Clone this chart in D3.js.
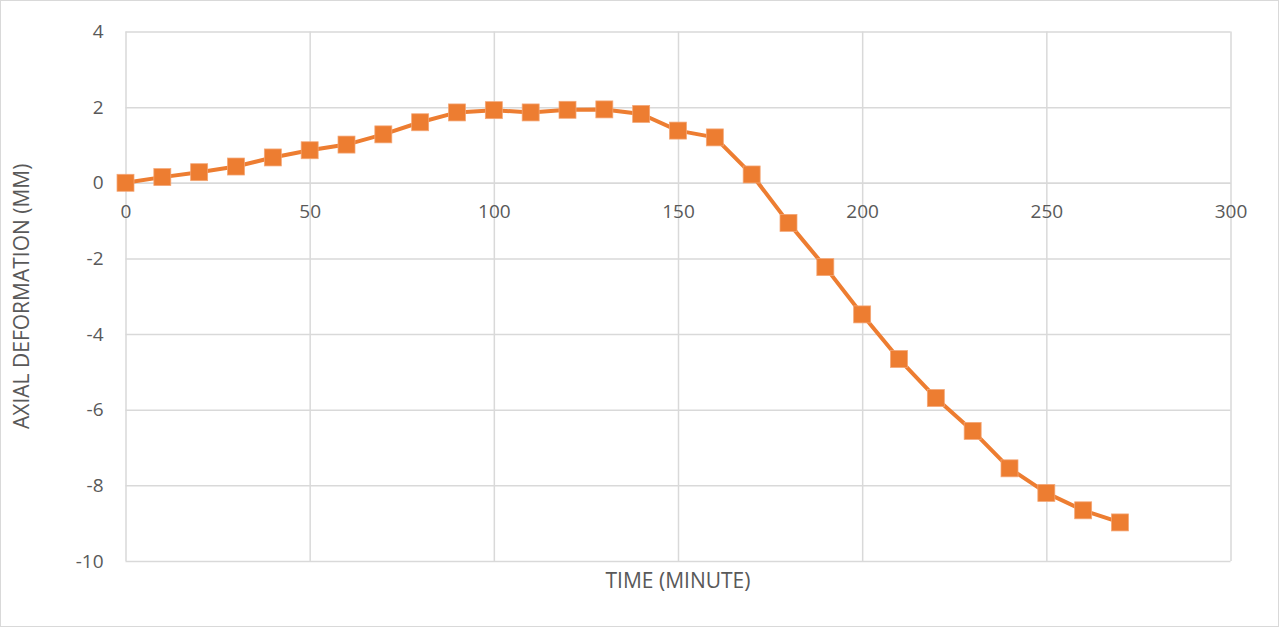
<!DOCTYPE html>
<html>
<head>
<meta charset="utf-8">
<script src="https://cdn.jsdelivr.net/npm/d3@7"></script>
<style>
  html, body { margin: 0; padding: 0; background: #fff; }
  svg { display: block; }
  text { font-family: "Open Sans", "Lato", sans-serif; fill: #595959; }
</style>
</head>
<body>
<svg id="chart" width="1279" height="627"></svg>
<script>
// Axial deformation of the specimen over time
const timeMinutes = [0, 10, 20, 30, 40, 50, 60, 70, 80, 90, 100, 110, 120, 130, 140,
                     150, 160, 170, 180, 190, 200, 210, 220, 230, 240, 250, 260, 270];
const deformationMM = [0, 0.15, 0.28, 0.43, 0.67, 0.86, 1.01, 1.28, 1.6, 1.86, 1.92, 1.86, 1.93, 1.94, 1.82,
                       1.38, 1.2, 0.22, -1.06, -2.23, -3.48, -4.66, -5.69, -6.56, -7.55, -8.2, -8.66, -8.98];
const xTicks = [0, 50, 100, 150, 200, 250, 300];
const yTicks = [-10, -8, -6, -4, -2, 0, 2, 4];
const xTitle = "TIME (MINUTE)";
const yTitle = "AXIAL DEFORMATION (MM)";

const W = 1279, H = 627;
const plot = { left: 125.5, right: 1230.5, top: 31.5, bottom: 561 };

const svg = d3.select("#chart");

// outer chart border
svg.append("rect")
  .attr("x", 0.5).attr("y", 0.5)
  .attr("width", W - 1).attr("height", H - 1)
  .attr("fill", "#fff").attr("stroke", "#d9d9d9").attr("stroke-width", 1);

const x = d3.scaleLinear().domain([0, 300]).range([plot.left, plot.right]);
const y = d3.scaleLinear().domain([-10, 4]).range([plot.bottom, plot.top]);

const gridColor = "#d9d9d9";
const tickFmt = d => String(d); // plain hyphen-minus for negatives

// horizontal gridlines + value labels
const yAxis = d3.axisLeft(y).tickValues(yTicks).tickFormat(tickFmt)
  .tickSize(-(plot.right - plot.left)).tickPadding(22);
const gy = svg.append("g").attr("transform", `translate(${plot.left},0)`).call(yAxis);
gy.select(".domain").remove();
gy.selectAll(".tick line").attr("stroke", gridColor).attr("stroke-width", 1.5);
gy.selectAll(".tick text").attr("font-size", 19).attr("fill", "#595959")
  .style("font-family", '"Open Sans", sans-serif');

// vertical gridlines
const xGrid = d3.axisBottom(x).tickValues(xTicks).tickSize(-(plot.bottom - plot.top)).tickFormat("");
const gxg = svg.append("g").attr("transform", `translate(0,${plot.bottom})`).call(xGrid);
gxg.select(".domain").remove();
gxg.selectAll(".tick line").attr("stroke", gridColor).attr("stroke-width", 1.5);

// horizontal axis crossing at zero, labels below it
const xAxis = d3.axisBottom(x).tickValues(xTicks).tickFormat(tickFmt).tickSize(0).tickPadding(22);
const gx = svg.append("g").attr("transform", `translate(0,${y(0)})`).call(xAxis);
gx.select(".domain").attr("stroke", gridColor).attr("stroke-width", 1.5);
gx.selectAll(".tick text").attr("font-size", 19).attr("fill", "#595959")
  .style("font-family", '"Open Sans", sans-serif');

// data line
const orange = "#ED7D31";
const pts = timeMinutes.map((t, i) => [t, deformationMM[i]]);
svg.append("path")
  .datum(pts)
  .attr("fill", "none")
  .attr("stroke", orange)
  .attr("stroke-width", 4)
  .attr("stroke-linejoin", "round")
  .attr("d", d3.line().x(d => x(d[0])).y(d => y(d[1])));

// square markers
const ms = 17;
svg.append("g").selectAll("rect")
  .data(pts)
  .join("rect")
  .attr("x", d => x(d[0]) - ms / 2)
  .attr("y", d => y(d[1]) - ms / 2)
  .attr("width", ms).attr("height", ms)
  .attr("fill", orange)
  .attr("stroke", "#f4a777").attr("stroke-width", 0.75);

// axis titles
svg.append("text")
  .attr("x", 678)
  .attr("y", 588)
  .attr("text-anchor", "middle")
  .attr("font-size", 21)
  .text(xTitle);

svg.append("text")
  .attr("transform", `translate(29,${(plot.top + plot.bottom) / 2}) rotate(-90)`)
  .attr("text-anchor", "middle")
  .attr("font-size", 21)
  .text(yTitle);
</script>
</body>
</html>
